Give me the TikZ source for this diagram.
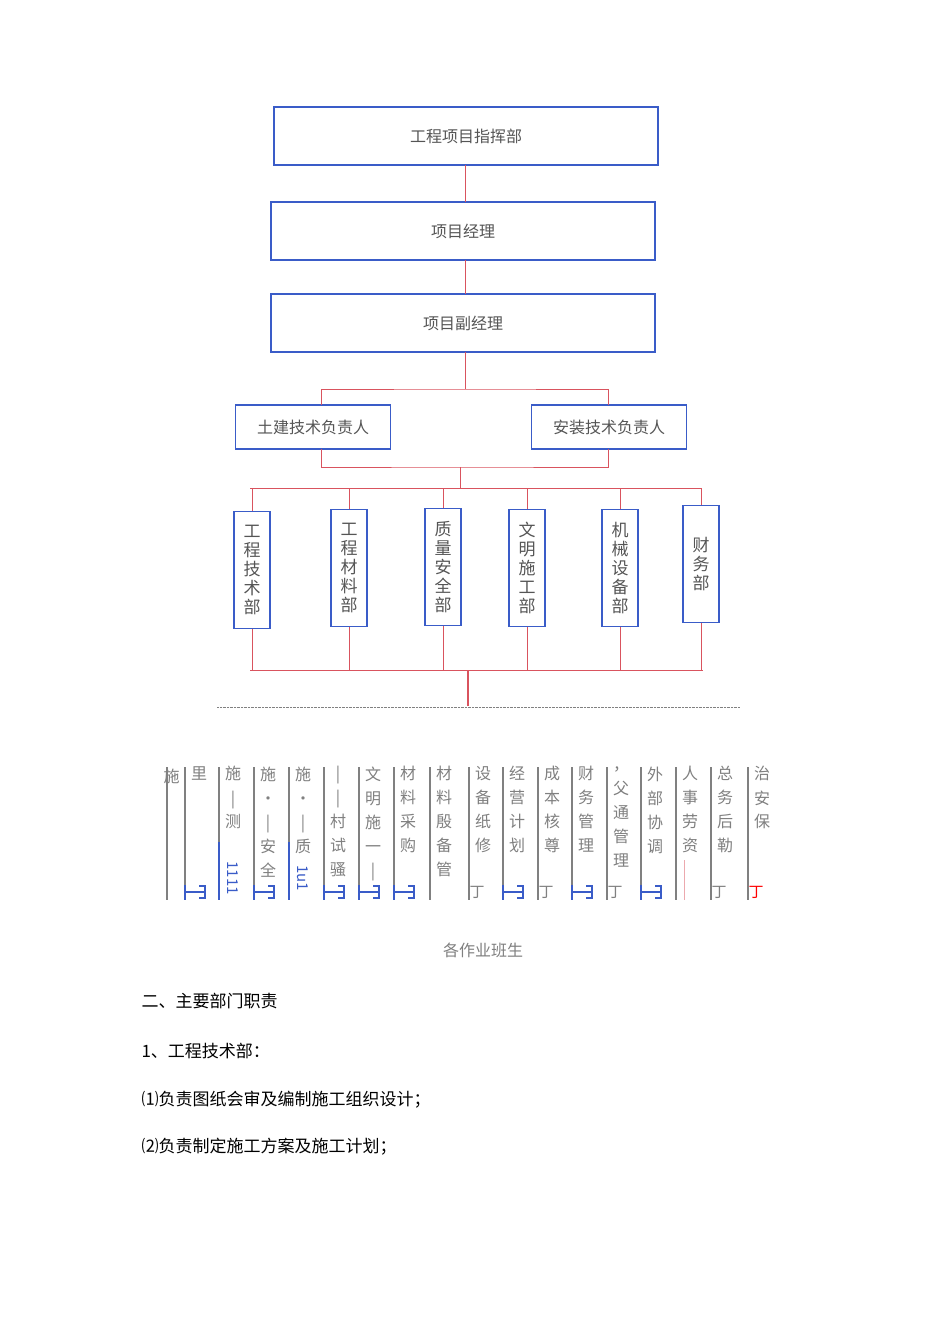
\documentclass[tikz,border=0pt]{standalone}
\usepackage{fontspec}
\newfontfamily\cjk{Noto Sans CJK SC}
\definecolor{bb}{HTML}{3A5CC8}
\definecolor{rl}{HTML}{D9535E}
\definecolor{gt}{HTML}{555555}
\begin{document}
\begin{tikzpicture}[x=1pt,y=-1pt,
 hbox/.style={draw=bb,line width=1.1pt,fill=white,inner sep=0pt,font=\cjk\fontsize{16}{18}\selectfont,text=gt},
 vbox/.style={draw=bb,line width=1.1pt,fill=white,inner sep=0pt,font=\cjk\fontsize{17}{19}\selectfont,text=gt,align=center},
 rline/.style={draw=rl,line width=1pt},
 col/.style={draw=gray,line width=1.2pt},
 ctext/.style={font=\cjk\fontsize{16}{24}\selectfont,text=gray,align=center,anchor=north}]
\useasboundingbox[fill=white](0,0) rectangle (950,1344);
\node[hbox,minimum width=384,minimum height=58] (b1) at (466,136) {工程项目指挥部};
\node[hbox,minimum width=384,minimum height=58] (b2) at (463,231) {项目经理};
\node[hbox,minimum width=384,minimum height=58] (b3) at (463,323) {项目副经理};
\node[hbox,minimum width=155,minimum height=44] (l) at (313,427) {土建技术负责人};
\node[hbox,minimum width=155,minimum height=44] (r) at (609,427) {安装技术负责人};
\draw[rline] (465,165) -- (465,202);
\draw[rline] (465,260) -- (465,294);
\draw[rline] (465,352) -- (465,389) coordinate (c1);
\draw[rline] (321,405) |- (c1) -| (608,405);
\draw[rline] (321,449) |- (460,467) coordinate (c2) -| (608,449);
\draw[rline] (c2) -- (460,488) coordinate (c3);
\foreach \n/\x/\y/\t in {d1/252/570/工\\程\\技\\术\\部, d2/349/568/工\\程\\材\\料\\部, d3/443/567/质\\量\\安\\全\\部, d4/527/568/文\\明\\施\\工\\部, d5/620/568/机\\械\\设\\备\\部, d6/701/564/财\\务\\部}{
 \node[vbox,minimum width=36,minimum height=117] (\n) at (\x,\y) {\t};
 \draw[rline] (\n.north) -- (\n.north |- c3);
 \draw[rline] (\n.south) -- (\n.south |- 0,670);
}
\draw[rline] (250,488) -- (702,488);
\draw[rline] (250,670) -- (703,670);
\draw[rline,line width=1.5pt] (468,670) -- (468,706);
\draw[gray,densely dotted] (217,707) -- (740,707);
% bottom columns
\foreach \x/\t/\b in {
 185/里/1, 219/施\\|\\测/2, 254/施\\·\\|\\安\\全/1, 289/施\\·\\|\\质/2, 324/|\\|\\村\\试\\骚/1, 359/文\\明\\施\\一\\|/1, 394/材\\料\\采\\购/1, 430/材\\料\\殷\\备\\管/5,
 469/设\\备\\纸\\修/0, 503/经\\营\\计\\划/1, 538/成\\本\\核\\尊/0, 572/财\\务\\管\\理/1, 607/，\\父\\通\\管\\理/0, 641/外\\部\\协\\调/1, 676/人\\事\\劳\\资/3, 711/总\\务\\后\\勒/0, 748/治\\安\\保/4}{
 \draw[col] (\x,767) -- (\x,900);
 \node[ctext] at (\x+14,763) {\t};
 \ifcase\b
  \node[font=\cjk\fontsize{15}{15}\selectfont,text=gray] at (\x+8,892) {丁};
 \or
  \draw[bb,line width=1.2pt] (\x,885) -- (\x,900) (\x,892) -- (\x+20,892) (\x+14,886) -- (\x+20,886) -- (\x+20,898) -- (\x+14,898);
 \or
  \draw[bb,line width=1.2pt] (\x,842) -- (\x,900);
  \node[font=\cjk\fontsize{15}{15}\selectfont,text=bb,rotate=-90] at (\x+14,878) {\ifnum\x=219 1111\else 1u1\fi};
 \or
  \draw[rl!50,line width=1pt] (\x+8,860) -- (\x+8,900);
 \or
  \node[font=\cjk\fontsize{15}{15}\selectfont,text=red] at (\x+8,892) {丁};
 \or
 \fi
}
\draw[col] (167,767) -- (167,900);
\node[font=\cjk\fontsize{16}{16}\selectfont,text=gray,anchor=north west] at (160,766) {施};
\node[font=\cjk\fontsize{16}{16}\selectfont,text=gray] (g) at (483,950) {各作业班生};
\node[font=\cjk\fontsize{17}{17}\selectfont,anchor=west] (h1) at (138,1001) {二、主要部门职责};
\node[font=\cjk\fontsize{17}{17}\selectfont,anchor=west] (h2) at (138,1051) {1、工程技术部：};
\node[font=\cjk\fontsize{17}{17}\selectfont,anchor=west] (h3) at (138,1100) {⑴负责图纸会审及编制施工组织设计；};
\node[font=\cjk\fontsize{17}{17}\selectfont,anchor=west] (h4) at (138,1147) {⑵负责制定施工方案及施工计划；};
\end{tikzpicture}
\end{document}
